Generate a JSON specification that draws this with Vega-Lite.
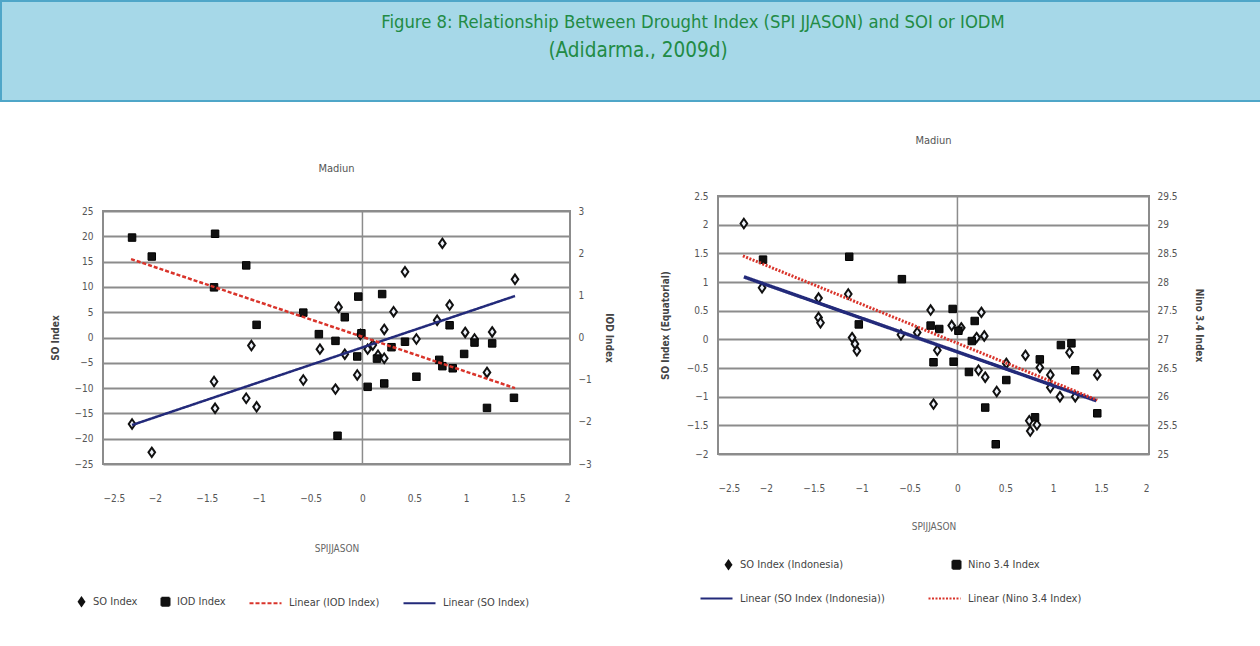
{
  "$schema": "https://vega.github.io/schema/vega-lite/v6.json",
  "background": "white",
  "padding": 0,
  "bounds": "flush",
  "spacing": 0,
  "config": {
    "font": "Liberation Sans Narrow, DejaVu Sans Condensed, sans-serif",
    "view": {"stroke": "#8c8c8c", "strokeWidth": 2},
    "axis": {
      "labelFont": "Liberation Sans Narrow, DejaVu Sans Condensed, sans-serif",
      "labelFontSize": 10,
      "labelColor": "#555555",
      "titleFont": "Liberation Sans Narrow, DejaVu Sans Condensed, sans-serif",
      "titleFontSize": 10,
      "titleColor": "#444444",
      "titleFontWeight": "bold",
      "gridColor": "#8c8c8c",
      "gridWidth": 2,
      "domain": false,
      "ticks": false
    },
    "legend": {
      "labelFont": "Liberation Sans Narrow, DejaVu Sans Condensed, sans-serif",
      "labelFontSize": 11,
      "labelColor": "#444444",
      "symbolSize": 64,
      "symbolStrokeWidth": 2,
      "labelOffset": 6,
      "labelLimit": 300
    },
    "title": {"font": "Liberation Sans Narrow, DejaVu Sans Condensed, sans-serif", "fontSize": 11, "fontWeight": "normal", "color": "#555555"}
  },
  "datasets": {
    "soL": [
      {"series": "SO Index", "spi": -2.22, "value": -17.1},
      {"series": "SO Index", "spi": -2.03, "value": -22.7},
      {"series": "SO Index", "spi": -1.43, "value": -8.7},
      {"series": "SO Index", "spi": -1.42, "value": -14.0},
      {"series": "SO Index", "spi": -1.12, "value": -12.0},
      {"series": "SO Index", "spi": -1.02, "value": -13.7},
      {"series": "SO Index", "spi": -1.07, "value": -1.6},
      {"series": "SO Index", "spi": -0.57, "value": -8.4},
      {"series": "SO Index", "spi": -0.41, "value": -2.3},
      {"series": "SO Index", "spi": -0.26, "value": -10.2},
      {"series": "SO Index", "spi": -0.23, "value": 6.0},
      {"series": "SO Index", "spi": -0.17, "value": -3.3},
      {"series": "SO Index", "spi": -0.05, "value": -7.4},
      {"series": "SO Index", "spi": 0.05, "value": -2.3},
      {"series": "SO Index", "spi": -0.02, "value": 0.6},
      {"series": "SO Index", "spi": 0.21, "value": -4.1},
      {"series": "SO Index", "spi": 0.21, "value": 1.6},
      {"series": "SO Index", "spi": 0.30, "value": 5.1},
      {"series": "SO Index", "spi": 0.41, "value": 13.0},
      {"series": "SO Index", "spi": 0.52, "value": -0.3},
      {"series": "SO Index", "spi": 0.72, "value": 3.4},
      {"series": "SO Index", "spi": 0.77, "value": 18.6},
      {"series": "SO Index", "spi": 0.84, "value": 6.4},
      {"series": "SO Index", "spi": 0.99, "value": 1.0},
      {"series": "SO Index", "spi": 1.08, "value": -0.3},
      {"series": "SO Index", "spi": 1.25, "value": 1.1},
      {"series": "SO Index", "spi": 1.20, "value": -6.9},
      {"series": "SO Index", "spi": 1.47, "value": 11.5},
      {"series": "SO Index", "spi": 0.15, "value": -3.5},
      {"series": "SO Index", "spi": 0.10, "value": -1.5}
    ],
    "iodL": [
      {"series": "IOD Index", "spi": -2.22, "value": 2.37},
      {"series": "IOD Index", "spi": -2.03, "value": 1.92},
      {"series": "IOD Index", "spi": -1.42, "value": 2.46},
      {"series": "IOD Index", "spi": -1.43, "value": 1.19},
      {"series": "IOD Index", "spi": -1.12, "value": 1.71},
      {"series": "IOD Index", "spi": -1.02, "value": 0.30},
      {"series": "IOD Index", "spi": -0.57, "value": 0.59},
      {"series": "IOD Index", "spi": -0.42, "value": 0.08},
      {"series": "IOD Index", "spi": -0.26, "value": -0.08},
      {"series": "IOD Index", "spi": -0.17, "value": 0.48},
      {"series": "IOD Index", "spi": -0.24, "value": -2.33},
      {"series": "IOD Index", "spi": -0.04, "value": 0.97},
      {"series": "IOD Index", "spi": 0.19, "value": 1.03},
      {"series": "IOD Index", "spi": -0.05, "value": -0.45},
      {"series": "IOD Index", "spi": 0.05, "value": -1.17},
      {"series": "IOD Index", "spi": 0.21, "value": -1.09},
      {"series": "IOD Index", "spi": -0.01, "value": 0.10},
      {"series": "IOD Index", "spi": 0.14, "value": -0.5},
      {"series": "IOD Index", "spi": 0.28, "value": -0.23},
      {"series": "IOD Index", "spi": 0.41, "value": -0.1},
      {"series": "IOD Index", "spi": 0.52, "value": -0.93},
      {"series": "IOD Index", "spi": 0.74, "value": -0.53},
      {"series": "IOD Index", "spi": 0.77, "value": -0.68},
      {"series": "IOD Index", "spi": 0.87, "value": -0.73},
      {"series": "IOD Index", "spi": 0.84, "value": 0.29},
      {"series": "IOD Index", "spi": 0.98, "value": -0.39},
      {"series": "IOD Index", "spi": 1.08, "value": -0.12},
      {"series": "IOD Index", "spi": 1.25, "value": -0.14},
      {"series": "IOD Index", "spi": 1.20, "value": -1.67},
      {"series": "IOD Index", "spi": 1.46, "value": -1.43}
    ],
    "soFitL": [
      {"series": "Linear (SO Index)", "spi": -2.22, "value": -17.3},
      {"series": "Linear (SO Index)", "spi": 1.47, "value": 8.2}
    ],
    "iodFitL": [
      {"series": "Linear (IOD Index)", "spi": -2.23, "value": 1.86},
      {"series": "Linear (IOD Index)", "spi": 1.47, "value": -1.2}
    ],
    "soR": [
      {"series": "SO Index (Indonesia)", "spi": -2.23, "value": 2.02},
      {"series": "SO Index (Indonesia)", "spi": -2.04, "value": 0.90},
      {"series": "SO Index (Indonesia)", "spi": -1.45, "value": 0.72},
      {"series": "SO Index (Indonesia)", "spi": -1.45, "value": 0.38},
      {"series": "SO Index (Indonesia)", "spi": -1.43, "value": 0.29},
      {"series": "SO Index (Indonesia)", "spi": -1.14, "value": 0.79},
      {"series": "SO Index (Indonesia)", "spi": -1.10, "value": 0.03},
      {"series": "SO Index (Indonesia)", "spi": -1.05, "value": -0.2},
      {"series": "SO Index (Indonesia)", "spi": -1.07, "value": -0.08},
      {"series": "SO Index (Indonesia)", "spi": -0.59, "value": 0.08},
      {"series": "SO Index (Indonesia)", "spi": -0.42, "value": 0.12},
      {"series": "SO Index (Indonesia)", "spi": -0.28, "value": 0.51},
      {"series": "SO Index (Indonesia)", "spi": -0.25, "value": -1.13},
      {"series": "SO Index (Indonesia)", "spi": -0.21, "value": -0.19},
      {"series": "SO Index (Indonesia)", "spi": -0.06, "value": 0.24},
      {"series": "SO Index (Indonesia)", "spi": 0.04, "value": 0.2},
      {"series": "SO Index (Indonesia)", "spi": 0.25, "value": 0.47},
      {"series": "SO Index (Indonesia)", "spi": 0.20, "value": 0.03},
      {"series": "SO Index (Indonesia)", "spi": 0.28, "value": 0.06},
      {"series": "SO Index (Indonesia)", "spi": 0.22, "value": -0.54},
      {"series": "SO Index (Indonesia)", "spi": 0.29, "value": -0.66},
      {"series": "SO Index (Indonesia)", "spi": 0.41, "value": -0.91},
      {"series": "SO Index (Indonesia)", "spi": 0.51, "value": -0.42},
      {"series": "SO Index (Indonesia)", "spi": 0.71, "value": -0.28},
      {"series": "SO Index (Indonesia)", "spi": 0.86, "value": -0.49},
      {"series": "SO Index (Indonesia)", "spi": 0.97, "value": -0.62},
      {"series": "SO Index (Indonesia)", "spi": 0.97, "value": -0.84},
      {"series": "SO Index (Indonesia)", "spi": 1.07, "value": -1.0},
      {"series": "SO Index (Indonesia)", "spi": 1.23, "value": -1.0},
      {"series": "SO Index (Indonesia)", "spi": 1.17, "value": -0.23},
      {"series": "SO Index (Indonesia)", "spi": 1.46, "value": -0.62},
      {"series": "SO Index (Indonesia)", "spi": 0.76, "value": -1.6},
      {"series": "SO Index (Indonesia)", "spi": 0.83, "value": -1.49},
      {"series": "SO Index (Indonesia)", "spi": 0.75, "value": -1.42}
    ],
    "ninoR": [
      {"series": "Nino 3.4 Index", "spi": -2.03, "value": 28.39},
      {"series": "Nino 3.4 Index", "spi": -1.13, "value": 28.44},
      {"series": "Nino 3.4 Index", "spi": -0.58, "value": 28.05},
      {"series": "Nino 3.4 Index", "spi": -1.03, "value": 27.26},
      {"series": "Nino 3.4 Index", "spi": -0.28, "value": 27.24},
      {"series": "Nino 3.4 Index", "spi": -0.19, "value": 27.18},
      {"series": "Nino 3.4 Index", "spi": -0.25, "value": 26.6},
      {"series": "Nino 3.4 Index", "spi": -0.05, "value": 27.53},
      {"series": "Nino 3.4 Index", "spi": -0.04, "value": 26.61},
      {"series": "Nino 3.4 Index", "spi": 0.12, "value": 26.43},
      {"series": "Nino 3.4 Index", "spi": 0.18, "value": 27.32},
      {"series": "Nino 3.4 Index", "spi": 0.15, "value": 26.97},
      {"series": "Nino 3.4 Index", "spi": 0.51, "value": 26.29},
      {"series": "Nino 3.4 Index", "spi": 0.29, "value": 25.81},
      {"series": "Nino 3.4 Index", "spi": 0.40, "value": 25.17},
      {"series": "Nino 3.4 Index", "spi": 0.86, "value": 26.65},
      {"series": "Nino 3.4 Index", "spi": 1.08, "value": 26.9},
      {"series": "Nino 3.4 Index", "spi": 1.19, "value": 26.93},
      {"series": "Nino 3.4 Index", "spi": 1.23, "value": 26.46},
      {"series": "Nino 3.4 Index", "spi": 1.46, "value": 25.71},
      {"series": "Nino 3.4 Index", "spi": 0.81, "value": 25.64},
      {"series": "Nino 3.4 Index", "spi": 0.01, "value": 27.15}
    ],
    "soFitR": [
      {"series": "Linear (SO Index (Indonesia))", "spi": -2.23, "value": 1.09},
      {"series": "Linear (SO Index (Indonesia))", "spi": 1.45, "value": -1.07}
    ],
    "ninoFitR": [
      {"series": "Linear (Nino 3.4 Index)", "spi": -2.24, "value": 28.455},
      {"series": "Linear (Nino 3.4 Index)", "spi": 1.46, "value": 25.94}
    ],
    "zeroLine": [{"spi": 0}],
    "header1": [{"text": "Figure 8: Relationship Between Drought Index (SPI JJASON) and SOI or IODM"}],
    "header2": [{"text": "(Adidarma., 2009d)"}]
  },
  "vconcat": [
    {
      "width": 1260,
      "height": 100,
      "view": {"fill": "#a6d8e8", "stroke": "#4fa6c8", "strokeWidth": 2},
      "layer": [
        {
          "data": {"name": "header1"},
          "mark": {"type": "text", "font": "Liberation Sans Narrow, DejaVu Sans Condensed, sans-serif", "fontSize": 18.3, "color": "#228b45", "dy": -28, "dx": 62},
          "encoding": {"text": {"field": "text", "type": "nominal"}}
        },
        {
          "data": {"name": "header2"},
          "mark": {"type": "text", "font": "Liberation Sans Narrow, DejaVu Sans Condensed, sans-serif", "fontSize": 20.5, "color": "#228b45", "dy": 0, "dx": 7},
          "encoding": {"text": {"field": "text", "type": "nominal"}}
        }
      ]
    },
    {
      "bounds": "flush",
      "spacing": 101,
      "hconcat": [
        {"data": {"values": []}, "mark": "point", "width": 1, "height": 1, "view": {"stroke": null}},
        {
          "bounds": "full",
          "spacing": 44,
          "resolve": {
            "scale": {"color": "independent", "shape": "independent", "strokeDash": "independent"},
            "legend": {"color": "independent", "shape": "independent", "strokeDash": "independent"}
          },
          "hconcat": [
            {
              "bounds": "flush",
              "spacing": 0,
              "vconcat": [
                {"data": {"values": []}, "mark": "point", "width": 467, "height": 110, "view": {"stroke": null}},
                {
                  "width": 467,
                  "height": 253,
                  "title": {"text": "Madiun", "offset": 32},
                  "layer": [
                    {
                      "data": {"name": "zeroLine"},
                      "mark": {"type": "rule", "color": "#8c8c8c", "strokeWidth": 1.5},
                      "encoding": {"x": {"field": "spi", "type": "quantitative", "scale": {"domain": [-2.5, 2], "nice": false},
                                  "axis": {"values": [-2.5, -2, -1.5, -1, -0.5, 0, 0.5, 1, 1.5, 2], "format": "~g", "grid": false, "labelPadding": 29, "titlePadding": 40, "title": "SPIJJASON", "titleFontWeight": "normal", "titleColor": "#666666"}}}
                    },
                    {
                      "data": {"name": "soL"},
                      "mark": {"type": "point", "filled": false, "fill": "#eef2fa", "fillOpacity": 1, "strokeWidth": 2, "size": 90, "opacity": 1},
                      "encoding": {
                        "x": {"field": "spi", "type": "quantitative"},
                        "y": {"field": "value", "type": "quantitative", "scale": {"domain": [-25, 25], "nice": false},
                              "axis": {"orient": "left", "values": [-25, -20, -15, -10, -5, 0, 5, 10, 15, 20, 25], "grid": true, "labelPadding": 10, "titlePadding": 14, "title": "SO Index"}},
                        "color": {"field": "series", "type": "nominal",
                                  "scale": {"domain": ["SO Index", "IOD Index", "Linear (IOD Index)", "Linear (SO Index)"], "range": ["#111111", "#111111", "#d9342b", "#232a7a"]},
                                  "legend": {"orient": "none", "legendX": -27, "legendY": 495, "direction": "horizontal", "columns": 4, "columnPadding": 19, "title": null}},
                        "shape": {"field": "series", "type": "nominal",
                                  "scale": {"domain": ["SO Index", "IOD Index", "Linear (IOD Index)", "Linear (SO Index)"], "range": ["M0,-1L0.7,0L0,1L-0.7,0Z", "square", "M-7,0H1", "M-7,0H1"]}}
                      }
                    },
                    {
                      "data": {"name": "soFitL"},
                      "mark": {"type": "line", "strokeWidth": 2.5},
                      "encoding": {
                        "x": {"field": "spi", "type": "quantitative"},
                        "y": {"field": "value", "type": "quantitative", "scale": {"domain": [-25, 25], "nice": false}, "axis": null},
                        "color": {"field": "series", "type": "nominal",
                                  "scale": {"domain": ["SO Index", "IOD Index", "Linear (IOD Index)", "Linear (SO Index)"], "range": ["#111111", "#111111", "#d9342b", "#232a7a"]}},
                        "strokeDash": {"field": "series", "type": "nominal",
                                  "scale": {"domain": ["SO Index", "IOD Index", "Linear (IOD Index)", "Linear (SO Index)"], "range": [[1, 0], [1, 0], [4, 2], [1, 0]]}}
                      }
                    },
                    {
                      "data": {"name": "iodL"},
                      "mark": {"type": "point", "filled": true, "stroke": "#000000", "strokeWidth": 1, "size": 56, "opacity": 1},
                      "encoding": {
                        "x": {"field": "spi", "type": "quantitative"},
                        "y": {"field": "value", "type": "quantitative", "scale": {"domain": [-3, 3], "nice": false},
                              "axis": {"orient": "right", "values": [-3, -2, -1, 0, 1, 2, 3], "grid": false, "labelPadding": 8, "titlePadding": 12, "title": "IOD Index"}},
                        "color": {"field": "series", "type": "nominal",
                                  "scale": {"domain": ["SO Index", "IOD Index", "Linear (IOD Index)", "Linear (SO Index)"], "range": ["#111111", "#111111", "#d9342b", "#232a7a"]}},
                        "shape": {"field": "series", "type": "nominal",
                                  "scale": {"domain": ["SO Index", "IOD Index", "Linear (IOD Index)", "Linear (SO Index)"], "range": ["M0,-1L0.7,0L0,1L-0.7,0Z", "square", "M-7,0H1", "M-7,0H1"]}}
                      }
                    },
                    {
                      "data": {"name": "iodFitL"},
                      "mark": {"type": "line", "strokeWidth": 2.5},
                      "encoding": {
                        "x": {"field": "spi", "type": "quantitative"},
                        "y": {"field": "value", "type": "quantitative", "scale": {"domain": [-3, 3], "nice": false}, "axis": null},
                        "color": {"field": "series", "type": "nominal",
                                  "scale": {"domain": ["SO Index", "IOD Index", "Linear (IOD Index)", "Linear (SO Index)"], "range": ["#111111", "#111111", "#d9342b", "#232a7a"]}},
                        "strokeDash": {"field": "series", "type": "nominal",
                                  "scale": {"domain": ["SO Index", "IOD Index", "Linear (IOD Index)", "Linear (SO Index)"], "range": [[1, 0], [1, 0], [4, 2], [1, 0]]}}
                      }
                    }
                  ],
                  "resolve": {"scale": {"y": "independent"}}
                }
              ]
            },
            {
              "bounds": "flush",
              "spacing": 0,
              "vconcat": [
                {"data": {"values": []}, "mark": "point", "width": 431, "height": 95, "view": {"stroke": null}},
                {
                  "width": 431,
                  "height": 258,
                  "title": {"text": "Madiun", "offset": 45},
                  "layer": [
                    {
                      "data": {"name": "zeroLine"},
                      "mark": {"type": "rule", "color": "#8c8c8c", "strokeWidth": 1.5},
                      "encoding": {"x": {"field": "spi", "type": "quantitative", "scale": {"domain": [-2.5, 2], "nice": false},
                                  "axis": {"values": [-2.5, -2, -1.5, -1, -0.5, 0, 0.5, 1, 1.5, 2], "format": "~g", "grid": false, "labelPadding": 29, "titlePadding": 28, "title": "SPIJJASON", "titleFontWeight": "normal", "titleColor": "#666666"}}}
                    },
                    {
                      "data": {"name": "soR"},
                      "mark": {"type": "point", "filled": false, "fill": "#eef2fa", "fillOpacity": 1, "strokeWidth": 2, "size": 90, "opacity": 1},
                      "encoding": {
                        "x": {"field": "spi", "type": "quantitative"},
                        "y": {"field": "value", "type": "quantitative", "scale": {"domain": [-2, 2.5], "nice": false},
                              "axis": {"orient": "left", "values": [-2, -1.5, -1, -0.5, 0, 0.5, 1, 1.5, 2, 2.5], "format": "~g", "grid": true, "labelPadding": 10, "titlePadding": 16, "title": "SO Index (Equatorial)"}},
                        "color": {"field": "series", "type": "nominal",
                                  "scale": {"domain": ["SO Index (Indonesia)", "Nino 3.4 Index", "Linear (SO Index (Indonesia))", "Linear (Nino 3.4 Index)"], "range": ["#111111", "#111111", "#232a7a", "#d9342b"]},
                                  "legend": {"orient": "none", "legendX": 5, "legendY": 458, "direction": "horizontal", "columns": 2, "columnPadding": 39, "rowPadding": 19, "title": null}},
                        "shape": {"field": "series", "type": "nominal",
                                  "scale": {"domain": ["SO Index (Indonesia)", "Nino 3.4 Index", "Linear (SO Index (Indonesia))", "Linear (Nino 3.4 Index)"], "range": ["M0,-1L0.7,0L0,1L-0.7,0Z", "square", "M-7,0H1", "M-7,0H1"]}}
                      }
                    },
                    {
                      "data": {"name": "soFitR"},
                      "mark": {"type": "line", "strokeWidth": 3.5},
                      "encoding": {
                        "x": {"field": "spi", "type": "quantitative"},
                        "y": {"field": "value", "type": "quantitative", "scale": {"domain": [-2, 2.5], "nice": false}, "axis": null},
                        "color": {"field": "series", "type": "nominal",
                                  "scale": {"domain": ["SO Index (Indonesia)", "Nino 3.4 Index", "Linear (SO Index (Indonesia))", "Linear (Nino 3.4 Index)"], "range": ["#111111", "#111111", "#232a7a", "#d9342b"]}},
                        "strokeDash": {"field": "series", "type": "nominal",
                                  "scale": {"domain": ["SO Index (Indonesia)", "Nino 3.4 Index", "Linear (SO Index (Indonesia))", "Linear (Nino 3.4 Index)"], "range": [[1, 0], [1, 0], [1, 0], [2, 1.5]]}}
                      }
                    },
                    {
                      "data": {"name": "ninoR"},
                      "mark": {"type": "point", "filled": true, "stroke": "#000000", "strokeWidth": 1, "size": 56, "opacity": 1},
                      "encoding": {
                        "x": {"field": "spi", "type": "quantitative"},
                        "y": {"field": "value", "type": "quantitative", "scale": {"domain": [25, 29.5], "nice": false},
                              "axis": {"orient": "right", "values": [25, 25.5, 26, 26.5, 27, 27.5, 28, 28.5, 29, 29.5], "format": "~g", "grid": false, "labelPadding": 8, "titlePadding": 16, "title": "Nino 3.4 Index"}},
                        "color": {"field": "series", "type": "nominal",
                                  "scale": {"domain": ["SO Index (Indonesia)", "Nino 3.4 Index", "Linear (SO Index (Indonesia))", "Linear (Nino 3.4 Index)"], "range": ["#111111", "#111111", "#232a7a", "#d9342b"]}},
                        "shape": {"field": "series", "type": "nominal",
                                  "scale": {"domain": ["SO Index (Indonesia)", "Nino 3.4 Index", "Linear (SO Index (Indonesia))", "Linear (Nino 3.4 Index)"], "range": ["M0,-1L0.7,0L0,1L-0.7,0Z", "square", "M-7,0H1", "M-7,0H1"]}}
                      }
                    },
                    {
                      "data": {"name": "ninoFitR"},
                      "mark": {"type": "line", "strokeWidth": 3},
                      "encoding": {
                        "x": {"field": "spi", "type": "quantitative"},
                        "y": {"field": "value", "type": "quantitative", "scale": {"domain": [25, 29.5], "nice": false}, "axis": null},
                        "color": {"field": "series", "type": "nominal",
                                  "scale": {"domain": ["SO Index (Indonesia)", "Nino 3.4 Index", "Linear (SO Index (Indonesia))", "Linear (Nino 3.4 Index)"], "range": ["#111111", "#111111", "#232a7a", "#d9342b"]}},
                        "strokeDash": {"field": "series", "type": "nominal",
                                  "scale": {"domain": ["SO Index (Indonesia)", "Nino 3.4 Index", "Linear (SO Index (Indonesia))", "Linear (Nino 3.4 Index)"], "range": [[1, 0], [1, 0], [1, 0], [2, 1.5]]}}
                      }
                    }
                  ],
                  "resolve": {"scale": {"y": "independent"}}
                }
              ]
            }
          ]
        }
      ]
    }
  ]
}
